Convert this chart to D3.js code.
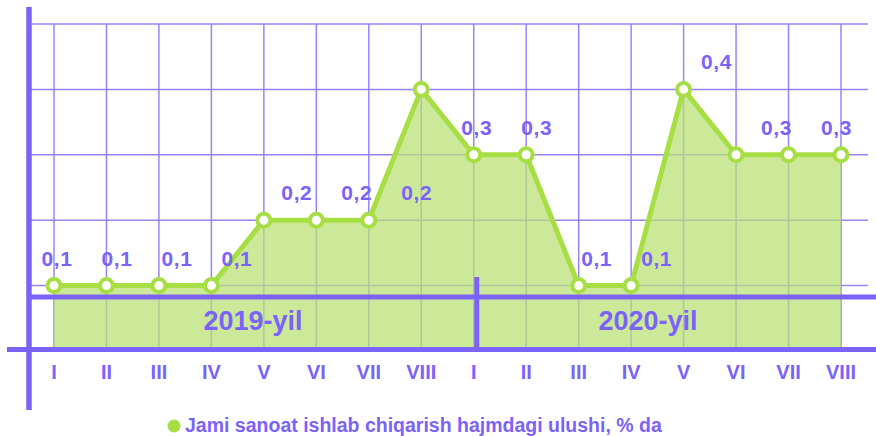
<!DOCTYPE html>
<html>
<head>
<meta charset="utf-8">
<script src="https://cdn.jsdelivr.net/npm/d3@7"></script>
<style>
    body { margin: 0; background: #fff; }
    text { font-family: "Liberation Sans", Arial, sans-serif; font-weight: bold; }
</style>
</head>
<body>
<div class="chart"></div>
<script>
const width = 876
const height = 436

// data
const months = ['I','II','III','IV','V','VI','VII','VIII','I','II','III','IV','V','VI','VII','VIII']
const values = [0.1,0.1,0.1,0.1,0.2,0.2,0.2,0.4,0.3,0.3,0.1,0.1,0.4,0.3,0.3,0.3]
const years = ['2019-yil','2020-yil']
const yGrid = [0.1,0.2,0.3,0.4,0.5]
const legendText = 'Jami sanoat ishlab chiqarish hajmdagi ulushi, % da'

const purple = '#7b62fb'
const green = '#a6de43'

const svg = d3.select('.chart')
    .append('svg')
        .attr('width', width)
        .attr('height', height)

const x = d3.scaleLinear()
    .domain([0, months.length-1])
    .range([54, 841])
const y = d3.scaleLinear()
    .domain([0, 0.5])
    .range([351, 24])

// grid
svg.append('g')
    .selectAll('line')
    .data(yGrid)
    .join('line')
        .attr('x1', 30).attr('x2', 868)
        .attr('y1', d=>y(d)).attr('y2', d=>y(d))
        .attr('stroke', '#9485fd')
        .attr('stroke-width', 1.5)
svg.append('g')
    .selectAll('line')
    .data(months)
    .join('line')
        .attr('x1', (d,i)=>x(i)).attr('x2', (d,i)=>x(i))
        .attr('y1', y(0.5)).attr('y2', y(0))
        .attr('stroke', '#9485fd')
        .attr('stroke-width', 1.5)

// area
const area = d3.area()
    .x((d,i)=>x(i))
    .y0(y(0))
    .y1(d=>y(d))
svg.append('path')
    .datum(values)
    .attr('d', area)
    .attr('fill', '#b9e073')
    .attr('fill-opacity', 0.72)

// thick frame lines
svg.append('line')
    .attr('x1', 30).attr('x2', width)
    .attr('y1', 297).attr('y2', 297)
    .attr('stroke', purple).attr('stroke-width', 5)
svg.append('line')
    .attr('x1', 7).attr('x2', width)
    .attr('y1', y(0)-1.5).attr('y2', y(0)-1.5)
    .attr('stroke', purple).attr('stroke-width', 5)
svg.append('line')
    .attr('x1', 29).attr('x2', 29)
    .attr('y1', 7).attr('y2', 410)
    .attr('stroke', purple).attr('stroke-width', 5.5)
svg.append('line')
    .attr('x1', x(8)+3).attr('x2', x(8)+3)
    .attr('y1', 277).attr('y2', y(0))
    .attr('stroke', purple).attr('stroke-width', 5)

// year labels
svg.append('g')
    .selectAll('text')
    .data(years)
    .join('text')
        .attr('x', (d,i)=>i==0 ? 253 : 648)
        .attr('y', 330)
        .attr('text-anchor', 'middle')
        .attr('font-size', 27)
        .attr('fill', purple)
        .text(d=>d)

// line + markers
const line = d3.line()
    .x((d,i)=>x(i))
    .y(d=>y(d))
svg.append('path')
    .datum(values)
    .attr('d', line)
    .attr('fill', 'none')
    .attr('stroke', green)
    .attr('stroke-width', 5)
    .attr('stroke-linejoin', 'round')
svg.append('g')
    .selectAll('circle')
    .data(values)
    .join('circle')
        .attr('cx', (d,i)=>x(i))
        .attr('cy', d=>y(d))
        .attr('r', 6.5)
        .attr('fill', '#fff')
        .attr('stroke', green)
        .attr('stroke-width', 4)

// value labels (last month of each year has none), drifting right within a year
const labelData = values.map((v,i)=>({v:v, i:i})).filter(d=>d.i%8 != 7)
svg.append('g')
    .selectAll('text')
    .data(labelData)
    .join('text')
        .attr('x', d=>x(d.i) + 3 + 7.5*(d.i%8))
        .attr('y', d=>y(d.v)-20)
        .attr('text-anchor', 'middle')
        .attr('font-size', 21)
        .attr('letter-spacing', 0.6)
        .attr('fill', purple)
        .text(d=>d3.format('.1f')(d.v).replace('.', ','))

// month ticks
svg.append('g')
    .selectAll('text')
    .data(months)
    .join('text')
        .attr('x', (d,i)=>x(i))
        .attr('y', 379)
        .attr('text-anchor', 'middle')
        .attr('font-size', 20)
        .attr('fill', purple)
        .text(d=>d)

// legend
svg.append('circle')
    .attr('cx', 174).attr('cy', 426)
    .attr('r', 6.5)
    .attr('fill', green)
svg.append('text')
    .attr('x', 185)
    .attr('y', 432)
    .attr('font-size', 19.5)
    .attr('fill', purple)
    .text(legendText)
</script>
</body>
</html>
